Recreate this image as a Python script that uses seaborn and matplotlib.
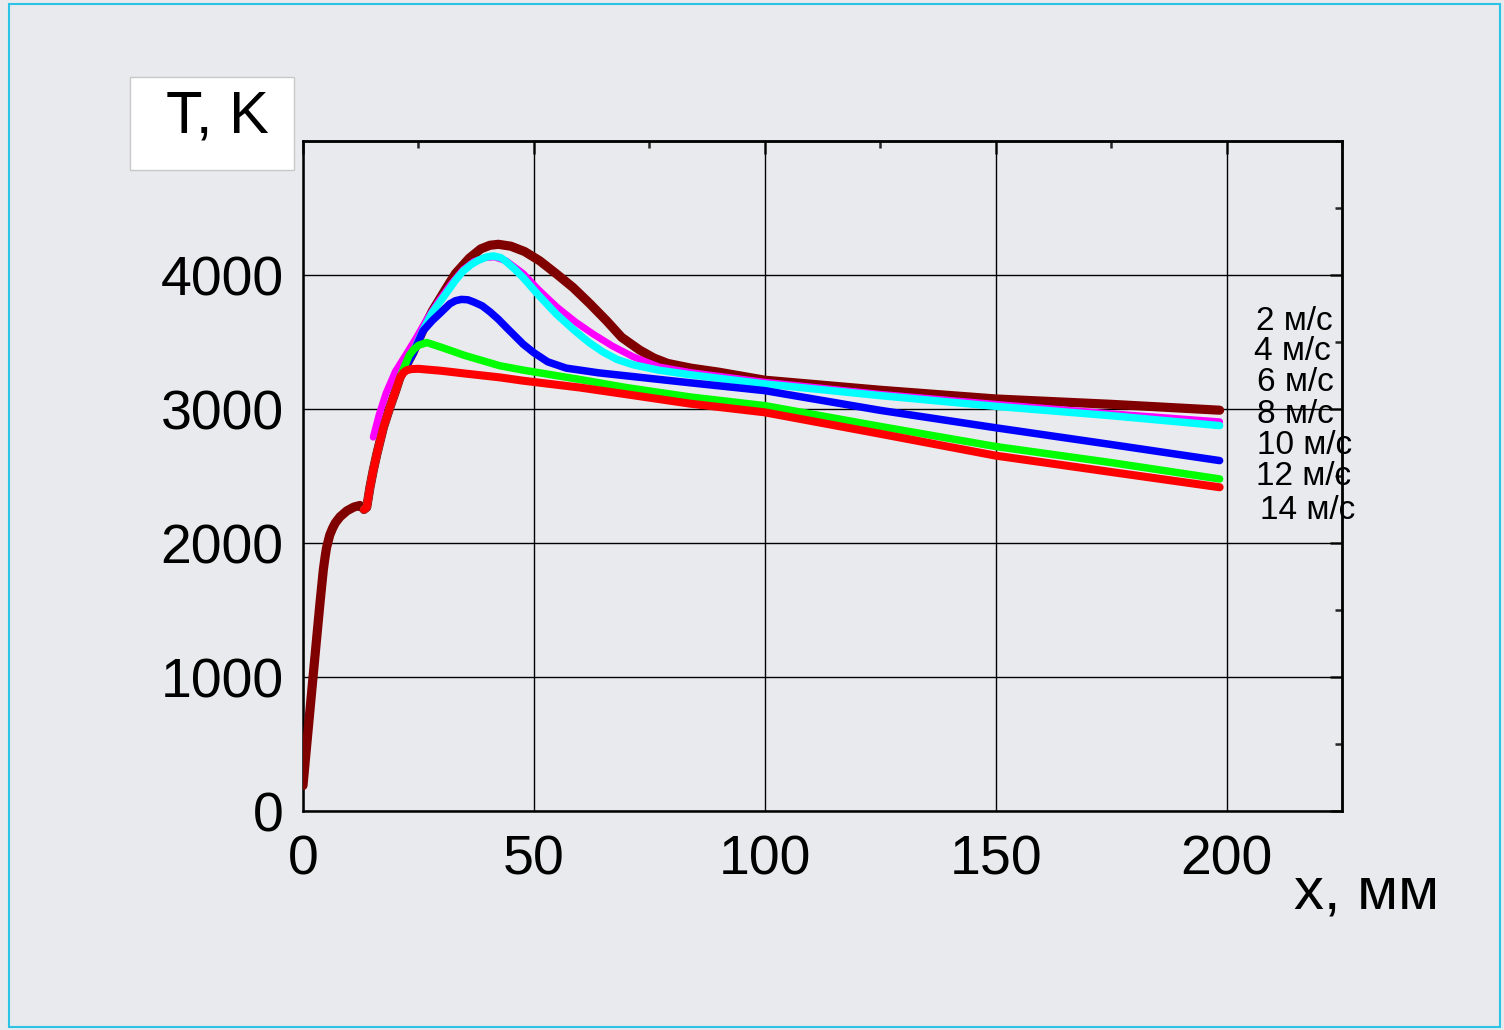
import numpy as np
import pandas as pd
import matplotlib
matplotlib.use("Agg")
import matplotlib.pyplot as plt
from matplotlib.ticker import MultipleLocator, NullFormatter
from matplotlib.patches import Rectangle
import seaborn as sns

# ---------------- data ----------------
# initial common segment (drawn with the 2 m/s curve)
x_init = [0, 0.8, 1.5, 2.2, 3.0, 3.7, 4.4, 4.8, 5.1, 5.5, 5.8, 6.4, 7.0, 8.0, 9.5, 11.0, 12.3, 13.0]
t_init = [190, 490, 750, 1010, 1305, 1560, 1800, 1900, 1965, 2020, 2060, 2110, 2150, 2195, 2240,
          2268, 2280, 2260]

# common rise after the step
x_rise = [13.2, 13.8, 14.5, 15.2, 16.0, 17.4, 18.8, 20.0, 21.0]
t_rise = [2250, 2267, 2416, 2540, 2665, 2862, 3012, 3130, 3235]

x_v2 = [23.8, 26, 28, 31, 33, 36, 38.5, 40.5, 42.3, 45, 48, 51.3, 55, 58.5, 62, 65.7, 69,
        72.9, 76, 79, 84, 90, 100, 125, 150, 175, 198.5]
t_v2 = [3420, 3590, 3730, 3900, 4010, 4125, 4195, 4222, 4229, 4215, 4175, 4105, 4005, 3906,
        3790, 3660, 3535, 3440, 3380, 3340, 3305, 3275, 3215, 3140, 3075, 3035, 2991]

x_v4 = [15.2, 16.5, 18, 20, 22.4, 24.5, 27, 29.5, 32, 34.7, 37, 39.5, 41.5, 44, 47.7, 51,
        55, 59, 62.8, 67, 71.5, 77, 84, 100, 125, 150, 175, 198.5]
t_v4 = [2790, 2960, 3120, 3280, 3412, 3530, 3680, 3810, 3930, 4040, 4100, 4130, 4135, 4105,
        4010, 3890, 3760, 3650, 3560, 3470, 3390, 3315, 3272, 3200, 3110, 3035, 2965, 2905]

x_v6 = [23.8, 26, 28, 31.1, 33, 34.7, 36.5, 38, 39.8, 41.2, 42.8, 44, 45.8, 47.7, 51, 54.9,
        59, 62, 65, 68, 71.5, 77, 84, 100, 125, 150, 175, 198.5]
t_v6 = [3420, 3590, 3720, 3868, 3960, 4030, 4080, 4110, 4135, 4142, 4130, 4100, 4045, 3980,
        3850, 3707, 3580, 3495, 3425, 3370, 3330, 3290, 3255, 3187, 3100, 3020, 2950, 2876]

x_v8 = [23.8, 26, 28, 29.7, 31.8, 33, 34.3, 35.7, 37, 38.8, 40.5, 42.3, 44, 47.7, 50, 53,
        57, 64, 72, 84, 100, 125, 150, 175, 198.5]
t_v8 = [3412, 3583, 3660, 3715, 3785, 3808, 3818, 3815, 3798, 3770, 3725, 3670, 3610, 3483,
        3420, 3352, 3305, 3270, 3240, 3195, 3137, 2990, 2860, 2735, 2615]

x_v10 = [22, 23, 24, 25, 26.8, 30, 35, 42.6, 47.7, 60, 70, 83.8, 100, 125, 150, 175, 198.5]
t_v10 = [3320, 3400, 3445, 3475, 3496, 3460, 3400, 3323, 3290, 3220, 3160, 3090, 3025, 2870,
         2720, 2600, 2478]

x_v12 = [21.7, 22.5, 23.5, 25, 30, 35, 42.6, 47.7, 60, 70, 83.8, 100, 125, 150, 175, 198.5]
t_v12 = [3270, 3290, 3298, 3300, 3285, 3265, 3236, 3211, 3160, 3110, 3040, 2975, 2815, 2652,
         2530, 2416]

series_labels = ["2 м/с", "4 м/с", "6 м/с", "8 м/с", "10 м/с", "12 м/с", "14 м/с"]
x_ticks = [0, 50, 100, 150, 200]
y_ticks = [0, 1000, 2000, 3000, 4000]

# ---------------- figure ----------------
sns.set_style("white")
plt.rcParams["font.family"] = ["Liberation Sans", "DejaVu Sans"]
plt.rcParams["text.color"] = "black"

W, H = 1504, 1030
fig = plt.figure(figsize=(W / 100, H / 100), dpi=100)
bg = "#e9eaee"
fig.patch.set_facecolor(bg)

def fx(px):
    return px / W

def fy(py):
    return 1 - py / H

ax = fig.add_axes([fx(303), fy(811), fx(1342) - fx(303), fy(141) - fy(811)])
ax.set_facecolor("none")

def build(xs, ts):
    return pd.DataFrame({"x": xs, "T": ts})

curves = [
    (build(x_init + x_rise + x_v2, t_init + t_rise + t_v2), "#800000", 6.6),
    (build(x_v4, t_v4), "#ff00ff", 5.0),
    (build(x_rise + x_v6, t_rise + t_v6), "#00ffff", 5.4),
    (build(x_rise + x_v8, t_rise + t_v8), "#0000ff", 5.4),
    (build(x_rise + x_v10, t_rise + t_v10), "#00ff00", 5.4),
    (build(x_rise + x_v12, t_rise + t_v12), "#ff0000", 5.8),
]
for df, col, lw in curves:
    sns.lineplot(data=df, x="x", y="T", ax=ax, color=col, lw=lw, sort=False,
                 estimator=None, solid_capstyle="round", solid_joinstyle="round", zorder=3)

ax.set_xlim(0, 225)
ax.set_ylim(0, 5000)
ax.set_xticks(x_ticks)
ax.set_yticks(y_ticks)
ax.xaxis.set_minor_locator(MultipleLocator(25))
ax.yaxis.set_minor_locator(MultipleLocator(500))
ax.set_xlabel("")
ax.set_ylabel("")
ax.grid(True, which="major", color="black", lw=1.0)
ax.set_axisbelow(True)
for s in ax.spines.values():
    s.set_visible(True)
    s.set_color("black")
    s.set_linewidth(1.8)

ax.tick_params(axis="both", which="major", direction="out", length=11, width=1.8,
               labelsize=40, colors="black", labelcolor="black", pad=3)
ax.tick_params(axis="both", which="minor", direction="out", length=6, width=1.8)
ax.tick_params(axis="x", which="major", pad=6)

# inward ticks on top and right
top = ax.secondary_xaxis("top")
top.set_xticks(x_ticks)
top.xaxis.set_minor_locator(MultipleLocator(25))
top.xaxis.set_major_formatter(NullFormatter())
top.tick_params(which="major", direction="in", length=9, width=1.8)
top.tick_params(which="minor", direction="in", length=5, width=1.8)
right = ax.secondary_yaxis("right")
right.set_yticks(y_ticks)
right.yaxis.set_minor_locator(MultipleLocator(500))
right.yaxis.set_major_formatter(NullFormatter())
right.tick_params(which="major", direction="in", length=9, width=1.8)
right.tick_params(which="minor", direction="in", length=5, width=1.8)
for sec in (top, right):
    for s in sec.spines.values():
        s.set_linewidth(1.8)

# axis titles
fig.patches.append(Rectangle((fx(130), fy(170)), fx(294) - fx(130), fy(77) - fy(170),
                             transform=fig.transFigure, facecolor="white",
                             edgecolor="#c8c8c8", lw=1.0, zorder=5))
fig.text(fx(217), fy(133), "T, K", fontsize=43, ha="center", va="baseline",
         color="black", zorder=6)
fig.text(fx(1294), fy(908), "x, мм", fontsize=43, ha="left", va="baseline", color="black")

# series labels
label_y = [321.3, 352, 382.5, 414.7, 445.5, 476, 510.3]
label_x = [1256, 1254, 1257, 1257, 1257, 1256, 1260]
for lab, lx, ly in zip(series_labels, label_x, label_y):
    fig.text(fx(lx), fy(ly), lab, fontsize=24, ha="left", va="center", color="black",
             zorder=6)

# outer frame
fig.patches.append(Rectangle((fx(9), fy(1027)), fx(1500) - fx(9), fy(4) - fy(1027),
                             transform=fig.transFigure, facecolor="none",
                             edgecolor="#2cc3e6", lw=1.5))

fig.savefig("out.png", dpi=100, facecolor=fig.get_facecolor())
